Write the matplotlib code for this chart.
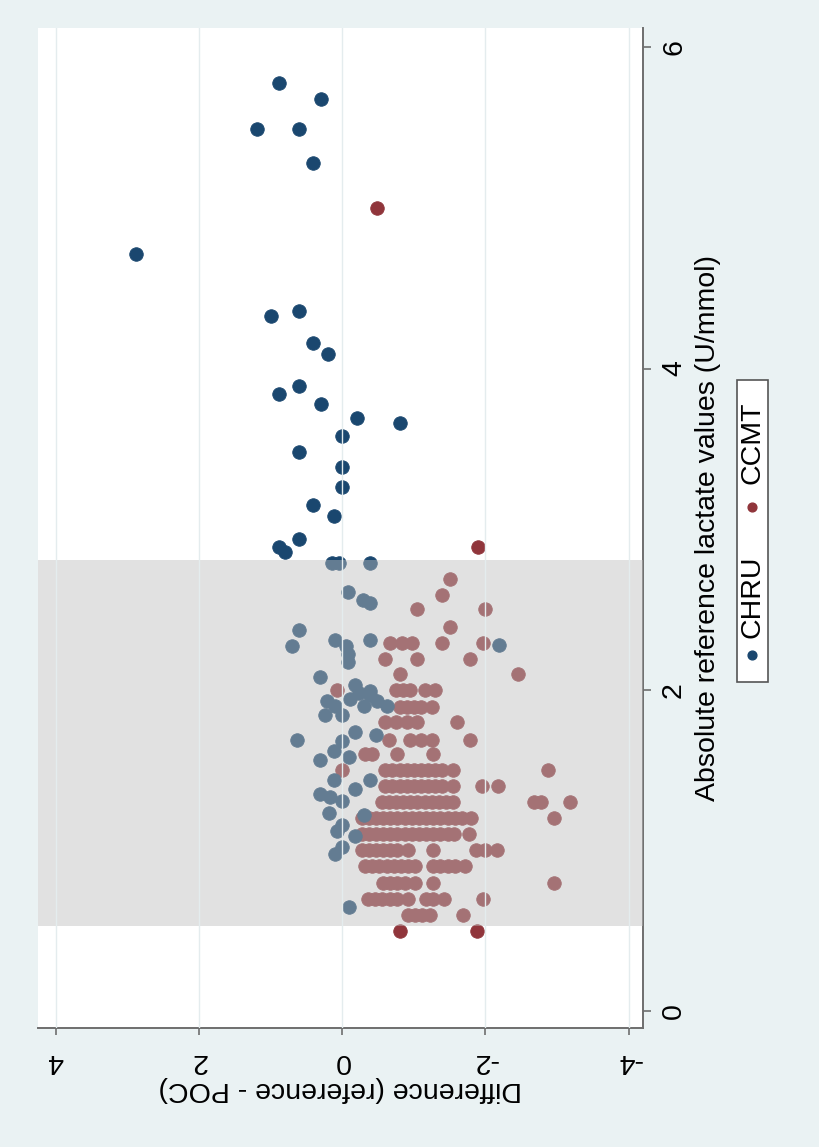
import matplotlib
matplotlib.use("Agg")
import matplotlib.pyplot as plt
from matplotlib.patches import Rectangle

plt.rcParams["font.family"] = ["Liberation Sans", "DejaVu Sans"]

# ---- data ----
# CHRU: reference lactate (mmol/L) and difference (reference - POC)
chru_lactate = [5.78, 5.68, 5.49, 5.49, 5.28, 4.71, 4.33, 4.36, 4.16, 4.09,
                3.89, 3.84, 3.78, 3.69, 3.66, 3.58, 3.48, 3.39, 3.26, 3.15, 3.08, 2.94, 2.89, 2.86,
                2.79, 2.79, 2.79, 2.61, 2.56, 2.54, 2.37, 2.27, 2.31, 2.27, 2.22, 2.17, 2.31, 2.28,
                2.08, 2.03, 1.99,
                1.93, 1.94, 1.98, 1.97, 1.93, 1.90, 1.84, 1.84, 1.90, 1.90,
                1.69, 1.74, 1.72, 1.68, 1.62, 1.56, 1.58, 1.44, 1.44, 1.35, 1.33, 1.31, 1.38,
                1.23, 1.16, 1.22, 1.09, 1.12, 0.98, 1.02, 0.65]
chru_diff = [0.89, 0.29, 1.19, 0.60, 0.41, 2.88, 0.99, 0.60, 0.41, 0.20,
             0.60, 0.89, 0.29, -0.20, -0.80, 0.00, 0.60, 0.00, 0.00, 0.41, 0.11, 0.60, 0.89, 0.80,
             0.15, 0.04, -0.39, -0.08, -0.29, -0.39, 0.60, 0.70, 0.10, -0.05, -0.08, -0.08, -0.39, -2.19,
             0.31, -0.18, -0.39,
             0.21, -0.11, -0.23, -0.39, -0.48, -0.62, 0.24, 0.00, 0.10, -0.30,
             0.63, -0.18, -0.47, 0.00, 0.12, 0.31, -0.10, 0.12, -0.39, 0.31, 0.17, 0.00, -0.18,
             0.19, 0.00, -0.30, -0.18, 0.08, 0.10, 0.00, -0.10]

# CCMT: one lactate level per row, with the differences seen on that row
ccmt_rows_lactate = [5.00, 2.89, 2.69, 2.59, 2.50, 2.39, 2.29, 2.19, 2.10, 2.00,
                     1.89, 1.80, 1.69, 1.60, 1.50, 1.40, 1.30, 1.20, 1.10, 1.00,
                     0.90, 0.80, 0.70, 0.60, 0.50]
ccmt_rows_diff = [
    [-0.49],
    [-1.89],
    [-1.50],
    [-1.39],
    [-1.04, -2.00],
    [-1.50],
    [-0.67, -0.83, -0.97, -1.39, -1.97],
    [-0.60, -1.04, -1.78],
    [-0.80, -2.46],
    [0.07, -0.75, -0.85, -0.95, -1.15, -1.30],
    [-0.80, -0.90, -1.00, -1.10, -1.25],
    [-0.60, -0.75, -0.90, -1.05, -1.60],
    [-0.65, -0.95, -1.10, -1.25, -1.78],
    [-0.32, -0.41, -0.77, -1.27],
    [0.00, -0.60, -0.70, -0.80, -0.90, -1.00, -1.10, -1.20, -1.30, -1.40, -1.55, -2.88],
    [-0.60, -0.70, -0.80, -0.90, -1.00, -1.10, -1.20, -1.30, -1.40, -1.55, -1.95, -2.18],
    [-0.55, -0.65, -0.75, -0.85, -0.95, -1.05, -1.15, -1.25, -1.35, -1.45, -1.55, -2.68, -2.78, -3.18],
    [-0.27, -0.37, -0.47, -0.57, -0.67, -0.77, -0.87, -0.97, -1.07, -1.17, -1.27, -1.37, -1.47,
     -1.57, -1.67, -1.80, -2.96],
    [-0.27, -0.37, -0.47, -0.57, -0.67, -0.77, -0.87, -0.97, -1.07, -1.17, -1.27, -1.37, -1.47,
     -1.56, -1.77],
    [-0.27, -0.37, -0.47, -0.57, -0.67, -0.77, -0.92, -1.27, -1.87, -2.00, -2.16],
    [-0.32, -0.42, -0.52, -0.62, -0.72, -0.82, -0.92, -1.02, -1.27, -1.37, -1.47, -1.57, -1.72],
    [-0.57, -0.67, -0.77, -0.87, -1.02, -1.27, -2.96],
    [-0.36, -0.46, -0.56, -0.66, -0.76, -0.92, -1.17, -1.27, -1.42, -1.97],
    [-0.92, -1.02, -1.12, -1.22, -1.69],
    [-0.80, -1.88],
]

band_low, band_high = 0.53, 2.81   # shaded lactate range
diff_ticks = [4, 2, 0, -2, -4]
lactate_ticks = [0, 2, 4, 6]

NAVY = "#1a476f"
MAROON = "#90353b"
BG = "#eaf2f3"
FS = 20.5

ccmt_lactate = []
ccmt_diff = []
for lac, diffs in zip(ccmt_rows_lactate, ccmt_rows_diff):
    for d in diffs:
        ccmt_lactate.append(lac)
        ccmt_diff.append(d)

# ---- figure (the chart is shown turned a quarter turn anticlockwise) ----
fig = plt.figure(figsize=(8.2, 11.47), dpi=100, facecolor=BG)
ax = fig.add_axes([0.0463, 0.1037, 0.7378, 0.8719])
ax.set_facecolor("white")

ax.scatter(ccmt_diff, ccmt_lactate, s=95, color=MAROON, edgecolors=MAROON,
           linewidths=0.6, zorder=2)
ax.scatter(chru_diff, chru_lactate, s=95, color=NAVY, edgecolors=NAVY,
           linewidths=0.6, zorder=2.1)
ax.axhspan(band_low, band_high, color="#bdbdbd", alpha=0.45, lw=0, zorder=3)
for t in diff_ticks:
    ax.axvline(t, color="#e4ecee", lw=1.0, zorder=3.5)

ax.set_xlim(4.25, -4.20)
ax.set_ylim(-0.106, 6.12)

for s in ["left", "top"]:
    ax.spines[s].set_visible(False)
for s in ["right", "bottom"]:
    ax.spines[s].set_color("#6e6e6e")
    ax.spines[s].set_linewidth(1.4)

ax.yaxis.tick_right()
ax.yaxis.set_label_position("right")
ax.set_xticks(diff_ticks)
ax.set_xticklabels([str(t) for t in diff_ticks], rotation=180, fontsize=FS)
ax.set_yticks(lactate_ticks)
ax.set_yticklabels([str(t) for t in lactate_ticks], rotation=90, va="center",
                   fontsize=FS)
ax.tick_params(axis="x", length=5, width=1.2, color="#6e6e6e", pad=9)
ax.tick_params(axis="y", length=6, width=1.2, color="#6e6e6e", pad=7)

ax.set_xlabel("Difference (reference - POC)", rotation=180, fontsize=FS, labelpad=2)
ax.set_ylabel("Absolute reference lactate values (U/mmol)", rotation=90,
              fontsize=FS, labelpad=6)

# ---- legend, drawn turned like the rest (pixel coordinates of the figure) ----
lg = fig.add_axes([0, 0, 1, 1])
lg.set_xlim(0, 820)
lg.set_ylim(1147, 0)
lg.axis("off")
lg.patch.set_alpha(0)
lg.add_patch(Rectangle((737, 380), 31, 302, facecolor="white",
                       edgecolor="#555555", lw=1.2))
lg.scatter([752.5], [655], s=40, color=NAVY)
lg.text(753, 597, "CHRU", rotation=90, ha="center", va="center", fontsize=FS)
lg.scatter([752.5], [507], s=40, color=MAROON)
lg.text(753, 443, "CCMT", rotation=90, ha="center", va="center", fontsize=FS)

fig.savefig("out.png", dpi=100, facecolor=BG)
